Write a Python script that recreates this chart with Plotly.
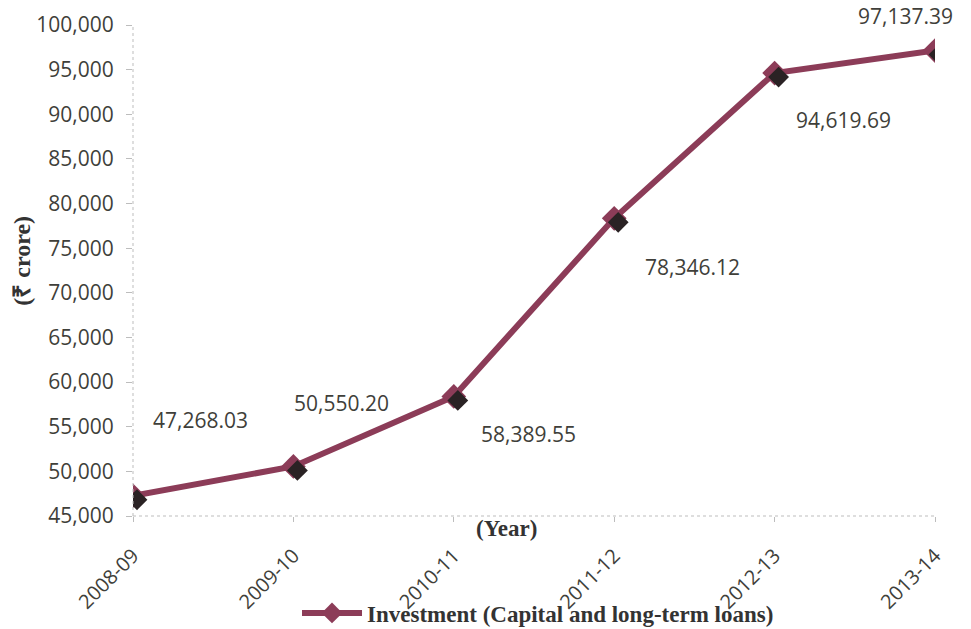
import plotly.graph_objects as go

years = ["2008-09", "2009-10", "2010-11", "2011-12", "2012-13", "2013-14"]
investment = [47268.03, 50550.20, 58389.55, 78346.12, 94619.69, 97137.39]
label_text = ["47,268.03", "50,550.20", "58,389.55", "78,346.12", "94,619.69", "97,137.39"]
y_ticks = list(range(45000, 100001, 5000))
series_name = "<b>Investment (Capital and long-term loans)</b>"

line_color = "#8C3C58"
text_color = "#3f3f3a"
grid_color = "#BDBDBD"

# label offsets (pixels) relative to each point
label_dx = [67, 48, 75, 78, 69, -30]
label_dy = [76, 63, -38, -49, -47, 35]

fig = go.Figure()

# marker shadow trace on slightly offset overlay axes
fig.add_trace(go.Scatter(
    x=years, y=investment, mode="markers", xaxis="x2", yaxis="y2",
    marker=dict(symbol="diamond", size=16, color="#2a2224"),
    showlegend=False, hoverinfo="skip"))

fig.add_trace(go.Scatter(
    x=years, y=investment, mode="lines+markers", name=series_name,
    line=dict(color=line_color, width=6),
    marker=dict(symbol="diamond", size=19, color=line_color)))

annotations = []
for yr, v, t, dx, dy in zip(years, investment, label_text, label_dx, label_dy):
    annotations.append(dict(x=yr, y=v, xref="x", yref="y", text=t, showarrow=False,
                            xshift=dx, yshift=dy,
                            font=dict(family="Open Sans", size=21, color=text_color)))

L, R, T, B = 133, 36, 25, 113
W, H = 971, 629
pw = W - L - R
ph = H - T - B
sx = 4 * 5 / pw
sy = 4 * 55000 / ph

annotations.append(dict(x=-(L - 22) / pw, y=0.52, xref="paper", yref="paper",
                        xanchor="center", yanchor="middle", text="<b>(₹ crore)</b>",
                        textangle=-90, showarrow=False,
                        font=dict(family="Liberation Serif", size=24, color="#333333")))
annotations.append(dict(x=(506 - L) / pw, y=0.004, xref="paper", yref="paper", text="<b>(Year)</b>",
                        showarrow=False, xanchor="center", yanchor="top",
                        font=dict(family="Liberation Serif", size=23, color="#333333")))

shapes = [
    dict(type="line", xref="paper", yref="paper", x0=0, x1=0, y0=0, y1=1,
         line=dict(color=grid_color, width=1, dash="dot")),
    dict(type="line", xref="paper", yref="paper", x0=0, x1=1, y0=0, y1=0,
         line=dict(color=grid_color, width=1, dash="dot")),
]

fig.update_layout(
    width=W, height=H,
    margin=dict(l=L, r=R, t=T, b=B, autoexpand=False),
    plot_bgcolor="white", paper_bgcolor="white",
    showlegend=True,
    legend=dict(orientation="h", x=0.505, xanchor="center", y=-(613 - 516) / ph, yanchor="middle",
                itemwidth=60, bgcolor="rgba(0,0,0,0)",
                font=dict(family="Liberation Serif", size=23, color="#333333")),
    xaxis=dict(type="category", range=[0, 5], showgrid=False, zeroline=False, showline=False,
               automargin=False,
               ticks="outside", ticklen=5, tickcolor=grid_color, tickangle=-45,
               ticklabelstandoff=14,
               tickfont=dict(family="Open Sans", size=20, color=text_color)),
    yaxis=dict(range=[45000, 100000], tickvals=y_ticks, tickformat=",d",
               showgrid=False, zeroline=False, showline=False, automargin=False,
               ticks="outside", ticklen=6, tickcolor=grid_color, ticklabelstandoff=8,
               tickfont=dict(family="Open Sans", size=21, color=text_color)),
    xaxis2=dict(type="category", range=[-sx, 5 - sx], overlaying="x",
                visible=False, anchor="y2"),
    yaxis2=dict(range=[45000 + sy, 100000 + sy], overlaying="y",
                visible=False, anchor="x2"),
    annotations=annotations,
    shapes=shapes,
)

fig.write_html("out.html")
